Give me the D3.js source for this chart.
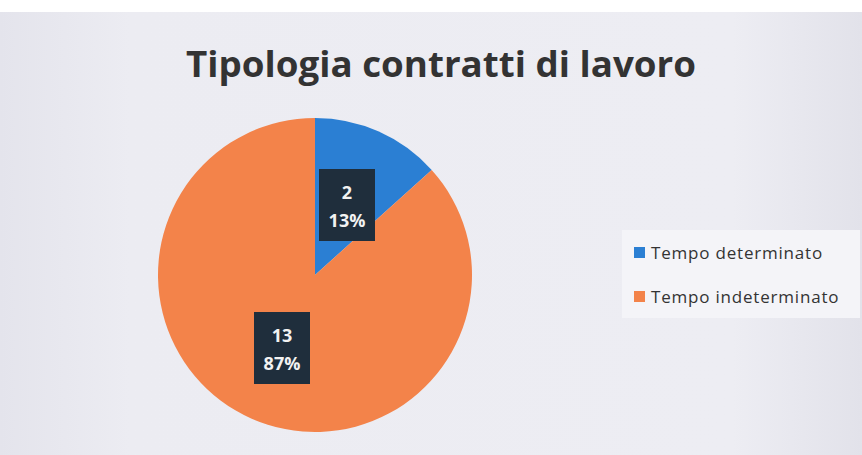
<!DOCTYPE html>
<html>
  <head>
    <title>Tipologia contratti di lavoro</title>
    <meta charset="UTF-8" />
    <style>
      body { margin: 0; background: #ffffff; }
    </style>
  </head>
  <body>
    <script src="https://cdn.jsdelivr.net/npm/d3@7"></script>
    <script>
      var categories = ["Tempo determinato", "Tempo indeterminato"];
      var values = [2, 13];
      var percentLabels = ["13%", "87%"];
      var colours = ["#2b7fd3", "#f3834a"];

      var width = 862, height = 455;
      var cx = 315, cy = 275, radius = 157;

      var vis = d3.select("body")
                .append("svg")
                .attr("width", width)
                .attr("height", height);

      // chart area background
      var grad = vis.append("defs").append("linearGradient")
                .attr("id", "bg")
                .attr("x1", "0").attr("x2", "1").attr("y1", "0").attr("y2", "0");
      grad.append("stop").attr("offset", "0").attr("stop-color", "#e4e4ec");
      grad.append("stop").attr("offset", "0.15").attr("stop-color", "#ececf2");
      grad.append("stop").attr("offset", "0.85").attr("stop-color", "#ededf3");
      grad.append("stop").attr("offset", "1").attr("stop-color", "#e2e2ea");

      vis.append("rect")
        .attr("x", 0).attr("y", 12)
        .attr("width", width).attr("height", height - 12)
        .attr("fill", "url(#bg)");

      vis.append("text")
        .attr("x", 441)
        .attr("y", 77)
        .attr("text-anchor", "middle")
        .attr("font-family", "Open Sans, sans-serif")
        .attr("font-weight", "bold")
        .attr("font-size", "36px")
        .attr("textLength", 510)
        .attr("lengthAdjust", "spacingAndGlyphs")
        .attr("fill", "#333333")
        .text("Tipologia contratti di lavoro");

      var pie = d3.pie().sort(null).value(function(d) { return d; });
      var arcs = pie(values);
      var arc = d3.arc().innerRadius(0).outerRadius(radius);

      var pieGroup = vis.append("g")
                .attr("transform", "translate(" + cx + "," + cy + ")");

      pieGroup.selectAll("path")
        .data(arcs)
        .enter()
        .append("path")
        .attr("d", arc)
        .attr("fill", function(d, i) { return colours[i]; });

      // data labels
      var labelPos = [[32, -70], [-33, 73]];
      var labels = pieGroup.selectAll("g.lbl")
        .data(arcs)
        .enter()
        .append("g")
        .attr("class", "lbl")
        .attr("transform", function(d, i) {
          return "translate(" + labelPos[i][0] + "," + labelPos[i][1] + ")";
        });

      labels.append("rect")
        .attr("x", -28).attr("y", -36)
        .attr("width", 56).attr("height", 72)
        .attr("fill", "#1f2e3c");

      labels.append("text")
        .attr("text-anchor", "middle")
        .attr("y", -6)
        .attr("font-family", "Open Sans, sans-serif")
        .attr("font-weight", "bold")
        .attr("font-size", "18px")
        .attr("fill", "#f2f2f2")
        .text(function(d) { return d.data; });

      labels.append("text")
        .attr("text-anchor", "middle")
        .attr("y", 22)
        .attr("font-family", "Open Sans, sans-serif")
        .attr("font-weight", "bold")
        .attr("font-size", "18px")
        .attr("fill", "#f2f2f2")
        .text(function(d, i) { return percentLabels[i]; });

      // legend
      vis.append("rect")
        .attr("x", 622).attr("y", 230)
        .attr("width", 238).attr("height", 88)
        .attr("fill", "#f4f4f8");

      var legend = vis.selectAll("g.leg")
        .data(categories)
        .enter()
        .append("g")
        .attr("class", "leg")
        .attr("transform", function(d, i) { return "translate(634," + (253 + i * 44) + ")"; });

      legend.append("rect")
        .attr("x", 0).attr("y", -6)
        .attr("width", 11).attr("height", 11)
        .attr("fill", function(d, i) { return colours[i]; });

      legend.append("text")
        .attr("x", 17)
        .attr("y", 6)
        .attr("font-family", "Open Sans, sans-serif")
        .attr("font-size", "17px")
        .attr("letter-spacing", "0.8px")
        .attr("fill", "#333333")
        .text(function(d) { return d; });
    </script>
  </body>
</html>
